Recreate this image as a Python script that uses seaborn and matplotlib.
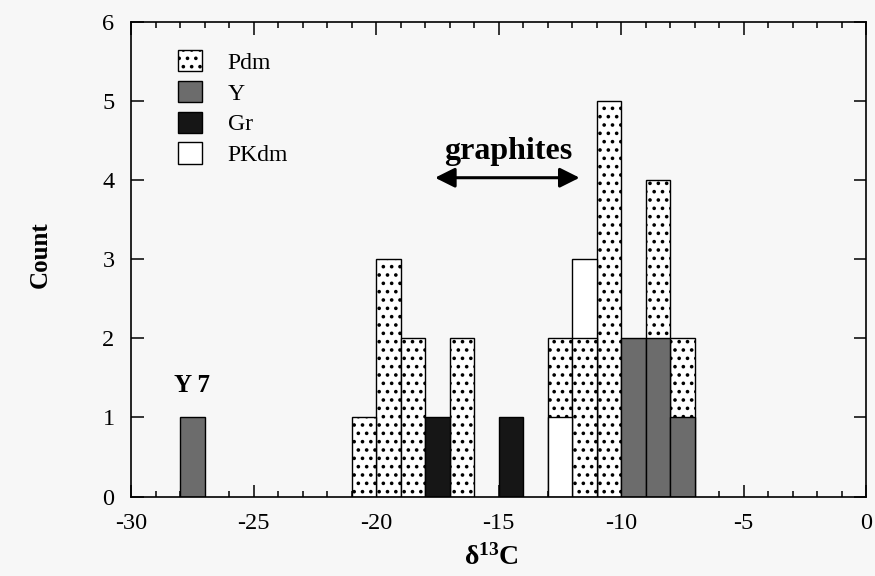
import numpy as np
import pandas as pd
import matplotlib
matplotlib.use("Agg")
import matplotlib.pyplot as plt
from matplotlib.patches import Patch
from matplotlib.ticker import MultipleLocator
import seaborn as sns

# delta13C histogram, 1 per-mil bins; counts keyed by the bin's left edge
pdm_bins = [-21, -20, -19, -17, -13, -12, -11, -9, -8]
pdm_counts = [1, 3, 2, 2, 2, 2, 5, 4, 2]

y_bins = [-28, -10, -9, -8]
y_counts = [1, 2, 2, 1]

gr_bins = [-18, -15]
gr_counts = [1, 1]

pkdm_bins = [-13, -12]
pkdm_counts = [1, 3]

groups = ["Pdm", "Y", "Gr", "PKdm"]
styles = {
    "Pdm": dict(facecolor="white", hatch=".."),
    "Y": dict(facecolor="#6c6c6c", hatch=None),
    "Gr": dict(facecolor="#161616", hatch=None),
    "PKdm": dict(facecolor="white", hatch=None),
}
frames = []
for name, b, c in [("Pdm", pdm_bins, pdm_counts), ("Y", y_bins, y_counts),
                   ("Gr", gr_bins, gr_counts), ("PKdm", pkdm_bins, pkdm_counts)]:
    frames.append(pd.DataFrame({"d13C": np.asarray(b, dtype=float) + 0.5,
                                "n": np.asarray(c, dtype=float), "group": name}))
df = pd.concat(frames, ignore_index=True)

sns.set_theme(style="ticks")
plt.rcParams["font.family"] = ["Liberation Serif", "DejaVu Serif"]
plt.rcParams["mathtext.fontset"] = "custom"
plt.rcParams["mathtext.rm"] = "Liberation Serif"
plt.rcParams["mathtext.bf"] = "Liberation Serif:bold"
plt.rcParams["mathtext.it"] = "Liberation Serif:italic"
plt.rcParams["axes.unicode_minus"] = False
plt.rcParams["text.color"] = "black"
plt.rcParams["axes.labelcolor"] = "black"
plt.rcParams["xtick.color"] = "black"
plt.rcParams["ytick.color"] = "black"
plt.rcParams["hatch.linewidth"] = 1.4
plt.rcParams["hatch.color"] = "black"

bg = "#f7f7f7"
fig = plt.figure(figsize=(8.75, 5.76), dpi=100, facecolor=bg)
ax = fig.add_axes([0.150, 0.138, 0.840, 0.824])
ax.set_facecolor(bg)

for name in groups:
    before = len(ax.patches)
    sub = df[df["group"] == name].reset_index(drop=True)
    sns.histplot(data=sub, x="d13C", weights="n", binwidth=1, binrange=(-30, 0), ax=ax,
                 stat="count", element="bars", fill=True, alpha=1,
                 color=styles[name]["facecolor"], edgecolor="black", linewidth=1.0)
    for p in ax.patches[before:]:
        h = p.get_height()
        if h <= 0:
            p.set_visible(False)
            continue
        p.set_facecolor(styles[name]["facecolor"])
        p.set_edgecolor("black")
        if styles[name]["hatch"]:
            p.set_hatch(styles[name]["hatch"])
        # overlaid bars: shorter bars sit in front of taller ones
        p.set_zorder(2 + (6 - h) / 10)

ax.set_xlim(-30, 0)
ax.set_ylim(0, 6)
ax.xaxis.set_major_locator(MultipleLocator(5))
ax.xaxis.set_minor_locator(MultipleLocator(1))
ax.yaxis.set_major_locator(MultipleLocator(1))
ax.tick_params(axis="both", which="major", direction="in", length=9, width=1.1,
               top=True, right=True, labelsize=17.5, pad=12, color="black",
               labelcolor="black")
ax.tick_params(axis="x", which="minor", direction="in", length=4.5, width=1.1,
               top=True, bottom=True)
for s in ax.spines.values():
    s.set_linewidth(1.2)
    s.set_color("black")
    s.set_zorder(5)

ax.set_ylabel("Count", fontsize=18, fontweight="bold", color="black")
ax.yaxis.set_label_coords(-0.108, 0.509)
ax.set_xlabel(r"$\mathbf{\delta^{13}C}$", fontsize=20, color="black")
ax.xaxis.set_label_coords(0.49, -0.1)

ax.text(-27.5, 1.4, "Y 7", ha="center", va="center", fontsize=18, fontweight="bold")
ax.text(-14.6, 4.36, "graphites", ha="center", va="center", fontsize=23, fontweight="bold")
ax.annotate("", xy=(-11.7, 4.03), xytext=(-17.6, 4.03),
            arrowprops=dict(arrowstyle="<|-|>", mutation_scale=30, lw=2.2, color="black",
                            shrinkA=0, shrinkB=0))

handles = [Patch(facecolor=styles[g]["facecolor"], edgecolor="black",
                 hatch=styles[g]["hatch"], linewidth=1.0) for g in groups]
ax.legend(handles, groups, loc="upper left", bbox_to_anchor=(0.035, 0.985), frameon=False,
          fontsize=17, handlelength=1.0, handleheight=1.0, handletextpad=1.1,
          labelspacing=0.3)

fig.savefig("out.png", dpi=100, facecolor=bg)
